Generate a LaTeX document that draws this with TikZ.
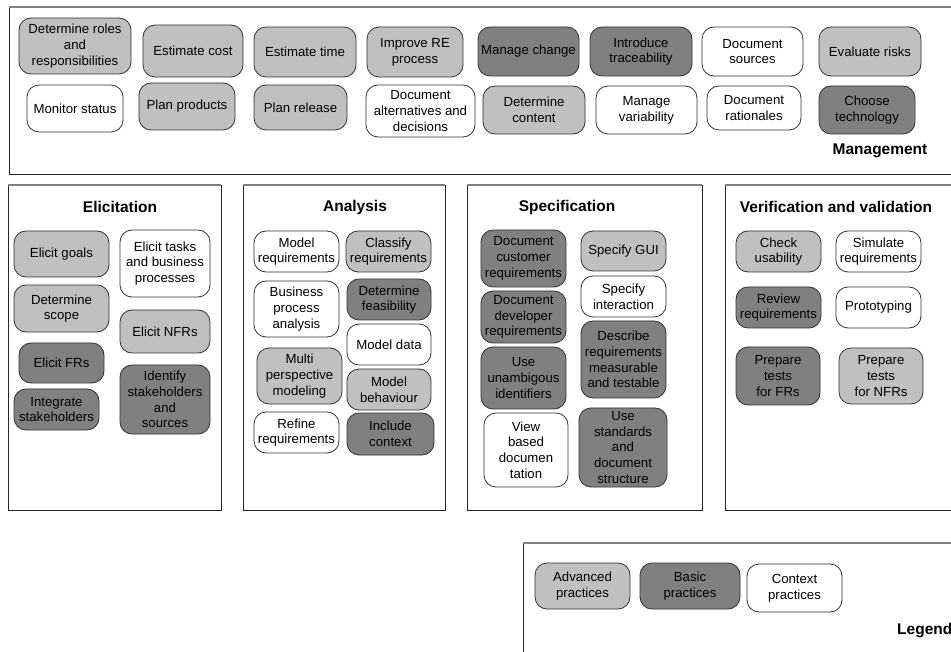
\documentclass[tikz,border=0pt]{standalone}
\usepackage{fontspec}
\setmainfont{Liberation Sans}
\usepackage{tikz}
\usetikzlibrary{positioning}

\definecolor{advgray}{RGB}{192,192,192}
\definecolor{basicgray}{RGB}{128,128,128}
\definecolor{edgegray}{RGB}{50,50,50}

\tikzset{
    practice/.style={draw=edgegray, line width=0.8pt, rounded corners=12pt,
        align=center, inner sep=0pt, font=\fontsize{13.2}{15.8}\selectfont},
    adv/.style={practice, fill=advgray},
    basic/.style={practice, fill=basicgray},
    ctx/.style={practice, fill=white},
    dims/.style 2 args={minimum width=#1pt, minimum height=#2pt},
    frame/.style={draw=black!85, line width=0.9pt},
    frametop/.style={draw=black!50, line width=1.1pt},
    areatitle/.style={font=\fontsize{15.5}{18}\selectfont\bfseries, inner sep=0pt}
}

\begin{document}
\begin{tikzpicture}[x=1pt, y=-1pt]
        \clip (0,0) rectangle (951,652);
        \fill[white] (0,0) rectangle (951,652);

        % Management
        \draw[frame] (9,7) -- (9,174) -- (970,174);
        \draw[frametop] (9,7) -- (970,7);
        \node[areatitle] (mgmt) at (880,151) {Management};

        \node[adv, dims={112}{56}] (roles) at (75,46) {Determine roles\\and\\responsibilities};
        \node[adv, dims={100}{52}] (estCost) at (193,51) {Estimate cost};
        \node[adv, dims={102}{50}] (estTime) at (305,52) {Estimate time};
        \node[adv, dims={96}{50}] (improveRE) at (415,52) {Improve RE\\process};
        \node[basic, dims={101}{49}] (manChange) at (528.5,51.5) {Manage change};
        \node[basic, dims={102}{49}] (introTrace) at (641,51.5) {Introduce\\traceability};
        \node[ctx, dims={101}{49}] (docSources) at (752.5,51.5) {Document\\sources};
        \node[adv, dims={102}{49}] (evalRisks) at (870,51.5) {Evaluate risks};

        \node[ctx, dims={96}{47}] (monitor) at (75,108.5) {Monitor status};
        \node[adv, dims={96}{47}] (planProd) at (187,106.5) {Plan products};
        \node[adv, dims={93}{45}] (planRel) at (300.5,107.5) {Plan release};
        \node[ctx, dims={109}{52}] (docAlt) at (420.5,111) {Document\\alternatives and\\decisions};
        \node[adv, dims={102}{48}] (detContent) at (534,110) {Determine\\content};
        \node[ctx, dims={101}{48}] (manVar) at (646.5,110) {Manage\\variability};
        \node[ctx, dims={94}{44}] (docRat) at (754,108) {Document\\rationales};
        \node[basic, dims={96}{48}] (chooseTech) at (867,110) {Choose\\technology};

        % Elicitation
        \draw[frame] (221,185) -- (221,510) -- (8,510) -- (8,185);
        \draw[frametop] (8,185) -- (221,185);
        \node[areatitle] (elic) at (120,207) {Elicitation};

        \node[adv, dims={95}{46}] (goals) at (61.5,254) {Elicit goals};
        \node[ctx, dims={90}{67}] (tasks) at (165,263.5) {Elicit tasks\\and business\\processes};
        \node[adv, dims={95}{47}] (scope) at (61.5,308.5) {Determine\\scope};
        \node[adv, dims={90}{43}] (nfrs) at (165,331.5) {Elicit NFRs};
        \node[basic, dims={85}{40}] (frs) at (61.5,363) {Elicit FRs};
        \node[basic, dims={85}{41}] (integ) at (56.5,409.5) {Integrate\\stakeholders};
        \node[basic, dims={90}{69}] (identify) at (165,399.5) {Identify\\stakeholders\\and\\sources};

        % Analysis
        \draw[frame] (445,185) -- (445,510) -- (243,510) -- (243,185);
        \draw[frametop] (243,185) -- (445,185);
        \node[areatitle] (anal) at (355,207) {Analysis};

        \node[ctx, dims={85}{41}] (modelReq) at (296.5,251.5) {Model\\requirements};
        \node[adv, dims={85}{41}] (classify) at (388.5,251.5) {Classify\\requirements};
        \node[ctx, dims={85}{56}] (bpa) at (296.5,309) {Business\\process\\analysis};
        \node[basic, dims={84}{41}] (feas) at (389,299.5) {Determine\\feasibility};
        \node[ctx, dims={84}{41}] (modelData) at (389,344.5) {Model data};
        \node[adv, dims={85}{56}] (multi) at (299.5,376) {Multi\\perspective\\modeling};
        \node[adv, dims={84}{41}] (behav) at (389,389.5) {Model\\behaviour};
        \node[ctx, dims={85}{41}] (refine) at (296.5,432.5) {Refine\\requirements};
        \node[basic, dims={87}{42}] (context) at (390.5,434) {Include\\context};

        % Specification
        \draw[frame] (702,185) -- (702,510) -- (467,510) -- (467,185);
        \draw[frametop] (467,185) -- (702,185);
        \node[areatitle] (spec) at (567,207) {Specification};

        \node[basic, dims={85}{57}] (docCust) at (523.5,258.5) {Document\\customer\\requirements};
        \node[basic, dims={85}{52}] (docDev) at (523.5,317) {Document\\developer\\requirements};
        \node[basic, dims={85}{62}] (unamb) at (523.5,378) {Use\\unambigous\\identifiers};
        \node[ctx, dims={84}{74}] (viewBased) at (526,450) {View\\based\\documen\\tation};
        \node[adv, dims={85}{40}] (gui) at (623.5,251) {Specify GUI};
        \node[ctx, dims={85}{41}] (interact) at (623.5,296.5) {Specify\\interaction};
        \node[basic, dims={85}{77}] (measurable) at (623.5,359.5) {Describe\\requirements\\measurable\\and testable};
        \node[basic, dims={88}{79}] (standards) at (623,447.5) {Use\\standards\\and\\document\\structure};

        % Verification and validation
        \draw[frame] (725,185) -- (725,510) -- (970,510);
        \draw[frametop] (725,185) -- (970,185);
        \node[areatitle] (vv) at (836,207) {Verification and validation};

        \node[adv, dims={85}{41}] (checkUs) at (778.5,251.5) {Check\\usability};
        \node[ctx, dims={85}{41}] (simulate) at (878.5,251.5) {Simulate\\requirements};
        \node[basic, dims={85}{41}] (review) at (778.5,307.5) {Review\\requirements};
        \node[ctx, dims={85}{41}] (proto) at (878.5,307.5) {Prototyping};
        \node[basic, dims={84}{58}] (testFR) at (778,376) {Prepare\\tests\\for FRs};
        \node[adv, dims={84}{56}] (testNFR) at (881,376) {Prepare\\tests\\for NFRs};

        % Legend
        \draw[frame] (523,543) -- (523,670);
        \draw[frametop] (523,543) -- (970,543);
        \node[areatitle, anchor=west] (legend) at (897,631) {Legend};

        \node[adv, dims={95}{46}] (advLeg) at (582.5,586) {Advanced\\practices};
        \node[basic, dims={100}{46}] (basicLeg) at (690,586) {Basic\\practices};
        \node[ctx, dims={95}{48}] (ctxLeg) at (794.5,588) {Context\\practices};

    \end{tikzpicture}
\end{document}
